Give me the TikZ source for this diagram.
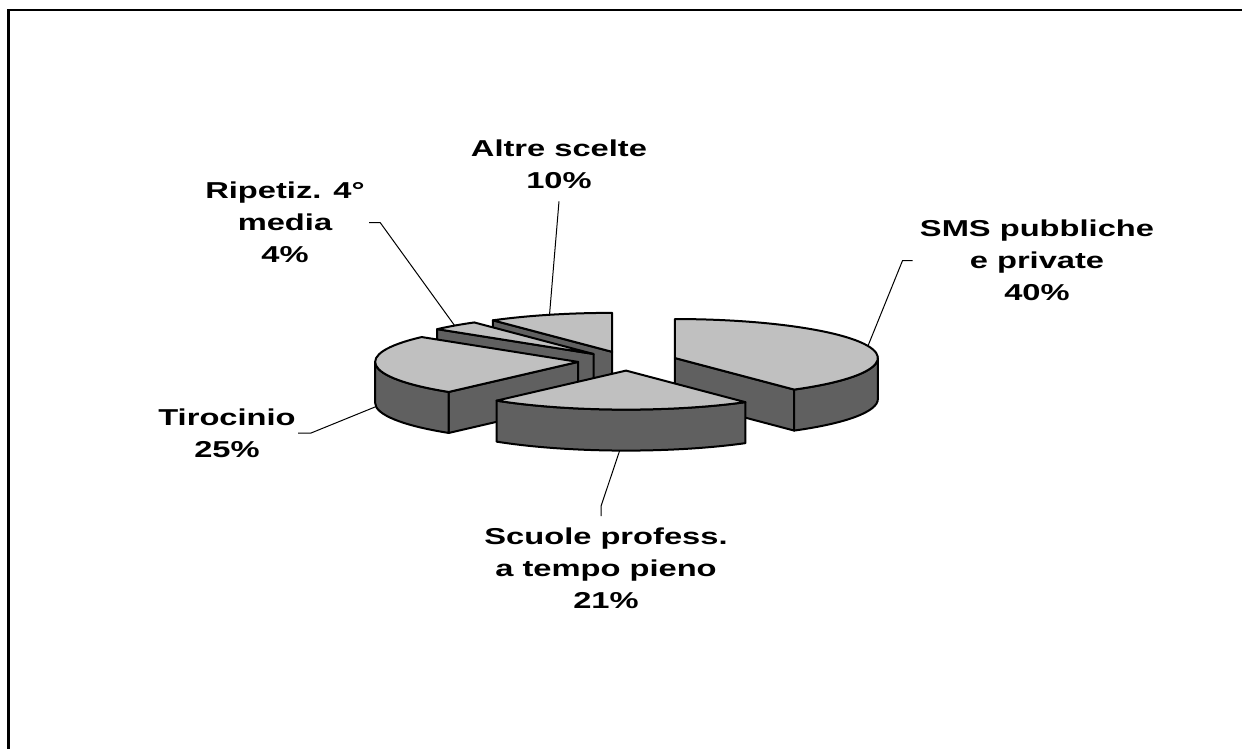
\documentclass[tikz,border=0pt]{standalone}
\usepackage{fontspec}
\setmainfont{Liberation Sans}[FakeStretch=1.42]
\usetikzlibrary{calc}
\definecolor{pietop}{RGB}{192,192,192}
\definecolor{pieside}{RGB}{96,96,96}
\begin{document}
\begin{tikzpicture}[x=0.5pt,y=0.5pt,
	topface/.style={fill=pietop,draw=black,line width=1pt,line join=round},
	sideface/.style={fill=pieside,draw=black,line width=1pt,line join=round},
	rad/.style={x radius=203,y radius=39},
	lbl/.style={font=\bfseries\fontsize{11.5}{16}\selectfont,align=center,inner sep=0pt},
	leader/.style={line width=0.5pt}]
	\useasboundingbox (0,0) rectangle (1242,-749);
	\draw[line width=1.25pt] (8.7,-760) -- (8.7,-10) -- (1250,-10);
	
	% centre of the pie and the exploded slices
	\coordinate (c) at (627.6,-361);
	\coordinate (altre-o) at ($(c)+(108:49.7 and 9.6)$);
	\coordinate (ripetiz-o) at ($(c)+(133.2:49.7 and 9.6)$);
	\coordinate (tiro-o) at ($(c)+(185.4:49.7 and 9.6)$);
	\coordinate (sms-o) at ($(c)+(18:49.7 and 9.6)$);
	\coordinate (scuole-o) at ($(c)+(-91.8:49.7 and 9.6)$);
	
	% Altre scelte
	\draw[sideface] (altre-o) -- ++(126:203 and 39) -- ++(0,-41) -- ($(altre-o)+(0,-41)$) -- cycle;
	\draw[topface] (altre-o) -- ++(90:203 and 39) arc[rad,start angle=90,end angle=126] -- cycle;
	
	% Ripetiz.
	\draw[sideface] (ripetiz-o) -- ++(140.4:203 and 39) -- ++(0,-41) -- ($(ripetiz-o)+(0,-41)$) -- cycle;
	\draw[topface] (ripetiz-o) -- ++(126:203 and 39) arc[rad,start angle=126,end angle=140.4] -- cycle;
	
	% Tirocinio
	\draw[sideface] (tiro-o) -- ++(230.4:203 and 39) -- ++(0,-41) -- ($(tiro-o)+(0,-41)$) -- cycle;
	\draw[sideface] ($(tiro-o)+(180:203 and 39)$) arc[rad,start angle=180,end angle=230.4] -- ++(0,-41) arc[rad,start angle=230.4,end angle=180] -- cycle;
	\draw[topface] (tiro-o) -- ++(140.4:203 and 39) arc[rad,start angle=140.4,end angle=230.4] -- cycle;
	
	% SMS
	\draw[sideface] (sms-o) -- ++(-54:203 and 39) -- ++(0,-41) -- ($(sms-o)+(0,-41)$) -- cycle;
	\draw[sideface] ($(sms-o)+(-54:203 and 39)$) arc[rad,start angle=-54,end angle=0] -- ++(0,-41) arc[rad,start angle=0,end angle=-54] -- cycle;
	\draw[topface] (sms-o) -- ++(-54:203 and 39) arc[rad,start angle=-54,end angle=90] -- cycle;
	
	% Scuole profess.
	\draw[sideface] ($(scuole-o)+(-129.6:203 and 39)$) arc[rad,start angle=-129.6,end angle=-54] -- ++(0,-41) arc[rad,start angle=-54,end angle=-129.6] -- cycle;
	\draw[topface] (scuole-o) -- ++(-129.6:203 and 39) arc[rad,start angle=-129.6,end angle=-54] -- cycle;
	
	% leader tips on the slices
	\coordinate (altre-tip) at ($(altre-o)+(108:203 and 39)$);
	\coordinate (ripetiz-tip) at ($(ripetiz-o)+(133.2:203 and 39)$);
	\coordinate (sms-tip) at ($(sms-o)+(18:203 and 39)$);
	\coordinate (tiro-tip) at ($(tiro-o)+(185.4:203 and 39)+(0,-41)$);
	\coordinate (scuole-tip) at ($(scuole-o)+(-91.8:203 and 39)+(0,-41)$);
	
	\node[lbl] (altre) at (559,-164.5) {Altre scelte\\10\%};
	\node[lbl] (ripetiz) at (285,-222.5) {Ripetiz. 4°\\media\\4\%};
	\node[lbl] (sms) at (1037,-260.5) {SMS pubbliche\\e private\\40\%};
	\node[lbl] (tiro) at (227,-433) {Tirocinio\\25\%};
	\node[lbl] (scuole) at (606,-568) {Scuole profess.\\a tempo pieno\\21\%};
	
	\draw[leader] ([yshift=-6pt]altre.south) -- (altre-tip);
	\draw[leader] ([xshift=2pt]ripetiz.east) -- ++(11,0) -- (ripetiz-tip);
	\draw[leader] ([xshift=-3.5pt]sms.west) -- ++(-10,0) -- (sms-tip);
	\draw[leader] ([xshift=1pt]tiro.east) -- ++(13,0) -- (tiro-tip);
	\draw[leader] ([xshift=-2.5pt,yshift=5.5pt]scuole.north) -- ++(0,10) -- (scuole-tip);
\end{tikzpicture}
\end{document}
